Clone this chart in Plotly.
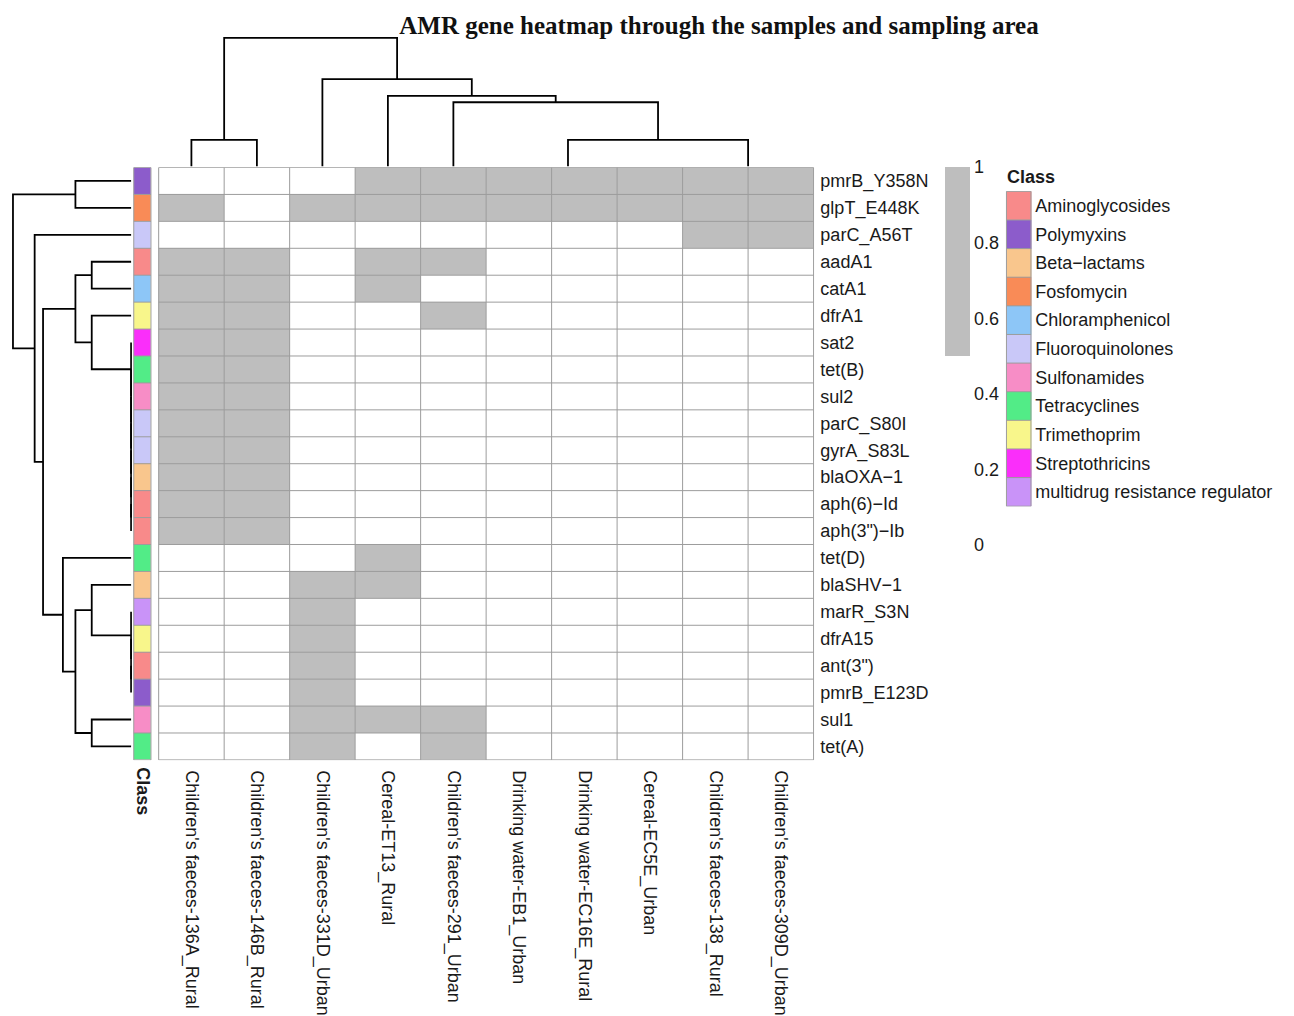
import numpy as np
import plotly.graph_objects as go

W, H = 1294, 1016

title = "AMR gene heatmap through the samples and sampling area"

samples = [
    "Children's faeces-136A_Rural",
    "Children's faeces-146B_Rural",
    "Children's faeces-331D_Urban",
    "Cereal-ET13_Rural",
    "Children's faeces-291_Urban",
    "Drinking water-EB1_Urban",
    "Drinking water-EC16E_Rural",
    "Cereal-EC5E_Urban",
    "Children's faeces-138_Rural",
    "Children's faeces-309D_Urban",
]

genes = [
    "pmrB_Y358N", "glpT_E448K", "parC_A56T", "aadA1", "catA1", "dfrA1",
    "sat2", "tet(B)", "sul2", "parC_S80I", "gyrA_S83L", "blaOXA\u22121",
    "aph(6)\u2212Id", 'aph(3")\u2212Ib', "tet(D)", "blaSHV\u22121",
    "marR_S3N", "dfrA15", 'ant(3")', "pmrB_E123D", "sul1", "tet(A)",
]

gene_class = [
    "Polymyxins", "Fosfomycin", "Fluoroquinolones", "Aminoglycosides",
    "Chloramphenicol", "Trimethoprim", "Streptothricins", "Tetracyclines",
    "Sulfonamides", "Fluoroquinolones", "Fluoroquinolones", "Beta\u2212lactams",
    "Aminoglycosides", "Aminoglycosides", "Tetracyclines", "Beta\u2212lactams",
    "multidrug resistance regulator", "Trimethoprim", "Aminoglycosides",
    "Polymyxins", "Sulfonamides", "Tetracyclines",
]

# presence (1) / absence (0): rows = genes, columns = samples
presence = [
    [0, 0, 0, 1, 1, 1, 1, 1, 1, 1],
    [1, 0, 1, 1, 1, 1, 1, 1, 1, 1],
    [0, 0, 0, 0, 0, 0, 0, 0, 1, 1],
    [1, 1, 0, 1, 1, 0, 0, 0, 0, 0],
    [1, 1, 0, 1, 0, 0, 0, 0, 0, 0],
    [1, 1, 0, 0, 1, 0, 0, 0, 0, 0],
    [1, 1, 0, 0, 0, 0, 0, 0, 0, 0],
    [1, 1, 0, 0, 0, 0, 0, 0, 0, 0],
    [1, 1, 0, 0, 0, 0, 0, 0, 0, 0],
    [1, 1, 0, 0, 0, 0, 0, 0, 0, 0],
    [1, 1, 0, 0, 0, 0, 0, 0, 0, 0],
    [1, 1, 0, 0, 0, 0, 0, 0, 0, 0],
    [1, 1, 0, 0, 0, 0, 0, 0, 0, 0],
    [1, 1, 0, 0, 0, 0, 0, 0, 0, 0],
    [0, 0, 0, 1, 0, 0, 0, 0, 0, 0],
    [0, 0, 1, 1, 0, 0, 0, 0, 0, 0],
    [0, 0, 1, 0, 0, 0, 0, 0, 0, 0],
    [0, 0, 1, 0, 0, 0, 0, 0, 0, 0],
    [0, 0, 1, 0, 0, 0, 0, 0, 0, 0],
    [0, 0, 1, 0, 0, 0, 0, 0, 0, 0],
    [0, 0, 1, 1, 1, 0, 0, 0, 0, 0],
    [0, 0, 1, 0, 1, 0, 0, 0, 0, 0],
]

class_names = [
    "Aminoglycosides", "Polymyxins", "Beta\u2212lactams", "Fosfomycin",
    "Chloramphenicol", "Fluoroquinolones", "Sulfonamides", "Tetracyclines",
    "Trimethoprim", "Streptothricins", "multidrug resistance regulator",
]
class_colors = [
    "#F88A8A", "#8C5CCB", "#F9C68D", "#F98B57", "#8DC6F7", "#C9C8F8",
    "#F78DC6", "#52EC87", "#F8F68B", "#FA2EFA", "#C993F8",
]

colorbar_ticks = [0, 0.2, 0.4, 0.6, 0.8, 1]

# dendrogram topology (leaf order as displayed); merge heights are computed
# from the data with complete linkage on Euclidean distance
row_tree = ((0, 1), (2, (((3, 4), (5, (6, (7, (8, (9, (10, (11, (12, 13))))))))),
                         (14, ((15, (16, (17, (18, 19)))), (20, 21))))))
col_tree = ((0, 1), (2, (3, (4, ((5, (6, 7)), (8, 9))))))

M = np.array(presence, dtype=float)
nr, nc = M.shape


def leaves(t):
    return [t] if isinstance(t, int) else leaves(t[0]) + leaves(t[1])


def build(t, vecs, segs):
    if isinstance(t, int):
        return float(t), 0.0
    p1, h1 = build(t[0], vecs, segs)
    p2, h2 = build(t[1], vecs, segs)
    h = max(np.linalg.norm(vecs[a] - vecs[b])
            for a in leaves(t[0]) for b in leaves(t[1]))
    segs.append([(p1, h1), (p1, h), (p2, h), (p2, h2)])
    return (p1 + p2) / 2.0, h


row_segs, col_segs = [], []
_, row_root = build(row_tree, M, row_segs)
_, col_root = build(col_tree, M.T, col_segs)


def px(x):
    return x / W


def py(y):
    return 1 - y / H


GRID_X0, GRID_X1, GRID_Y0, GRID_Y1 = 158, 815, 168, 764
font = "Liberation Sans, Arial, sans-serif"
txt = "#1a1a1a"
line_gray = "#9c9c9c"
cell_gray = "#BEBEBE"

fig = go.Figure()

# main heatmap
fig.add_trace(go.Heatmap(
    z=presence, x=list(range(nc)), y=list(range(nr)),
    colorscale=[[0, "#FFFFFF"], [0.5, "#FFFFFF"], [0.5, cell_gray], [1, cell_gray]],
    zmin=0, zmax=1, hoverinfo="skip",
    colorbar=dict(
        x=px(946), xanchor="left", y=py(GRID_Y0), yanchor="top",
        len=(548 - GRID_Y0) / H, lenmode="fraction",
        thickness=25, thicknessmode="pixels", outlinewidth=0,
        xpad=0, ypad=0, tickvals=colorbar_ticks,
        ticktext=[f"{v:g}" for v in colorbar_ticks], ticks="",
        tickfont=dict(family=font, size=18, color=txt),
    ),
    xaxis="x", yaxis="y",
))

# grid lines over heatmap
gx, gy = [], []
for i in range(nc + 1):
    gx += [i - 0.5, i - 0.5, None]
    gy += [-0.5, nr - 0.5, None]
for j in range(nr + 1):
    gx += [-0.5, nc - 0.5, None]
    gy += [j - 0.5, j - 0.5, None]
fig.add_trace(go.Scatter(x=gx, y=gy, mode="lines", line=dict(color=line_gray, width=1),
                         hoverinfo="skip", showlegend=False, xaxis="x", yaxis="y"))

# top dendrogram
dx, dy = [], []
for s in col_segs:
    for (a, b) in s:
        dx.append(a)
        dy.append(b)
    dx.append(None)
    dy.append(None)
fig.add_trace(go.Scatter(x=dx, y=dy, mode="lines", line=dict(color="#000000", width=1.8),
                         hoverinfo="skip", showlegend=False, xaxis="x2", yaxis="y2"))

# left dendrogram
lx, ly = [], []
for s in row_segs:
    for (a, b) in s:
        lx.append(b)
        ly.append(a)
    lx.append(None)
    ly.append(None)
fig.add_trace(go.Scatter(x=lx, y=ly, mode="lines", line=dict(color="#000000", width=1.8),
                         hoverinfo="skip", showlegend=False, xaxis="x3", yaxis="y3"))

# class annotation strip
ncl = len(class_names)
cls_scale = []
for k, c in enumerate(class_colors):
    cls_scale += [[k / ncl, c], [(k + 1) / ncl, c]]
strip_z = [[class_names.index(c)] for c in gene_class]
fig.add_trace(go.Heatmap(z=strip_z, x=[0], y=list(range(nr)), colorscale=cls_scale,
                         zmin=-0.5, zmax=ncl - 0.5, showscale=False, hoverinfo="skip",
                         xaxis="x4", yaxis="y4"))
sx, sy = [-0.5, -0.5, None, 0.5, 0.5, None], [-0.5, nr - 0.5, None, -0.5, nr - 0.5, None]
for j in range(nr + 1):
    sx += [-0.5, 0.5, None]
    sy += [j - 0.5, j - 0.5, None]
fig.add_trace(go.Scatter(x=sx, y=sy, mode="lines", line=dict(color=line_gray, width=1),
                         hoverinfo="skip", showlegend=False, xaxis="x4", yaxis="y4"))

# class legend swatches
leg_z = [[k] for k in range(ncl)]
fig.add_trace(go.Heatmap(z=leg_z, x=[0], y=list(range(ncl)), colorscale=cls_scale,
                         zmin=-0.5, zmax=ncl - 0.5, showscale=False, hoverinfo="skip",
                         xaxis="x5", yaxis="y5"))
ex, ey = [-0.5, -0.5, None, 0.5, 0.5, None], [-0.5, ncl - 0.5, None, -0.5, ncl - 0.5, None]
for j in range(ncl + 1):
    ex += [-0.5, 0.5, None]
    ey += [j - 0.5, j - 0.5, None]
fig.add_trace(go.Scatter(x=ex, y=ey, mode="lines", line=dict(color=line_gray, width=1),
                         hoverinfo="skip", showlegend=False, xaxis="x5", yaxis="y5"))

hidden = dict(showgrid=False, zeroline=False, showticklabels=False, ticks="",
              showline=False, fixedrange=True)
pad = 0.012
top_lo = 0.03 * col_root

fig.update_layout(
    width=W, height=H, autosize=False,
    margin=dict(l=0, r=0, t=0, b=0, pad=0),
    paper_bgcolor="white", plot_bgcolor="rgba(0,0,0,0)",
    showlegend=False,
    title=dict(text="<b>" + title + "</b>", x=px(719), xanchor="center",
               y=py(25), yanchor="middle",
               font=dict(family="Liberation Serif, Times New Roman, serif", size=25, color="#111111")),
    xaxis=dict(domain=[px(GRID_X0), px(GRID_X1)], range=[-0.5 - pad, nc - 0.5 + pad],
               anchor="y", tickvals=list(range(nc)), ticktext=samples, tickangle=90,
               ticks="", showgrid=False, zeroline=False, showline=False,
               ticklabelstandoff=9,
               tickfont=dict(family=font, size=18, color=txt), fixedrange=True),
    yaxis=dict(domain=[py(GRID_Y1), py(GRID_Y0)], range=[nr - 0.5 + pad, -0.5 - pad],
               anchor="x", side="right", tickvals=list(range(nr)), ticktext=genes,
               ticks="", showgrid=False, zeroline=False, showline=False,
               ticklabelstandoff=5,
               tickfont=dict(family=font, size=18, color=txt), fixedrange=True),
    xaxis2=dict(domain=[px(GRID_X0), px(GRID_X1)], range=[-0.5 - pad, nc - 0.5 + pad],
                anchor="y2", **hidden),
    yaxis2=dict(domain=[py(GRID_Y0 - 1), py(34)],
                range=[top_lo, top_lo + (col_root - top_lo) * (GRID_Y0 - 1 - 34) / (GRID_Y0 - 1 - 38)],
                anchor="x2", **hidden),
    xaxis3=dict(domain=[px(10), px(132)], range=[row_root * (132 - 10) / (132 - 13), -0.02],
                anchor="y3", **hidden),
    yaxis3=dict(domain=[py(GRID_Y1), py(GRID_Y0)], range=[nr - 0.5 + pad, -0.5 - pad],
                anchor="x3", **hidden),
    xaxis4=dict(domain=[px(133), px(152)], range=[-0.55, 0.55], anchor="y4",
                tickvals=[0], ticktext=["<b>Class</b>"], tickangle=90, ticks="",
                showgrid=False, zeroline=False, showline=False, ticklabelstandoff=6,
                tickfont=dict(family=font, size=18, color=txt), fixedrange=True),
    yaxis4=dict(domain=[py(GRID_Y1), py(GRID_Y0)], range=[nr - 0.5 + pad, -0.5 - pad],
                anchor="x4", **hidden),
    xaxis5=dict(domain=[px(1006), px(1033)], range=[-0.55, 0.55], anchor="y5", **hidden),
    yaxis5=dict(domain=[py(509), py(192)], range=[ncl - 0.5 + 0.01, -0.5 - 0.01],
                anchor="x5", side="right", tickvals=list(range(ncl)), ticktext=class_names,
                ticks="", showgrid=False, zeroline=False, showline=False,
                ticklabelstandoff=2,
                tickfont=dict(family=font, size=18, color=txt), fixedrange=True),
    annotations=[dict(text="<b>Class</b>", x=px(1006), y=py(178), xref="paper", yref="paper",
                      xanchor="left", yanchor="middle", showarrow=False,
                      font=dict(family=font, size=18, color=txt))],
)

fig.write_html("out.html", config={"displayModeBar": False},
               post_script="document.body.style.margin='0px';")
